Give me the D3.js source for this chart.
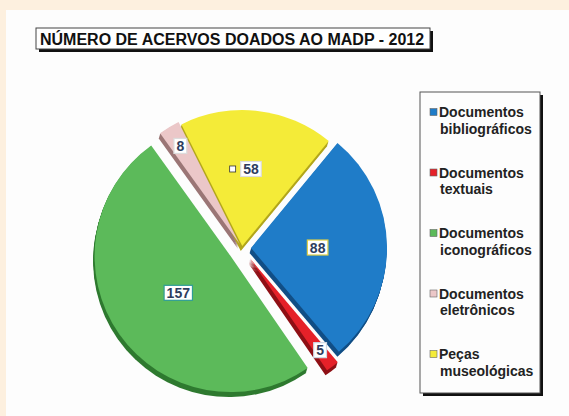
<!DOCTYPE html>
<html>
<head>
<meta charset="utf-8">
<script src="https://cdn.jsdelivr.net/npm/d3@7"></script>
<style>
  body { margin: 0; background: #fdf0df; }
  svg { display: block; font-family: 'Liberation Sans', Arial, sans-serif; }
</style>
</head>
<body>
<div id="chart"></div>
<script>
const w = 569;
const h = 416;

// data
const categories = [
  ['Documentos', 'bibliográficos'],
  ['Documentos', 'textuais'],
  ['Documentos', 'iconográficos'],
  ['Documentos', 'eletrônicos'],
  ['Peças', 'museológicas']
];
const values = [88, 5, 157, 8, 58];
const title = 'NÚMERO DE ACERVOS DOADOS AO MADP - 2012';

// styling
const colors = ['#1f7cc8', '#e52129', '#5cba5a', '#ebc7c8', '#f4eb38'];
const darkColors = ['#124f86', '#8f1116', '#2f7a30', '#9b7676', '#b3a71c'];
const labelBorders = ['#e0cf45', '#cfd8e4', '#2f9c96', '#dcdcdc', '#dcdcdc'];
const explode = [9, 13, 14, 5, 2];
const labelR = [0.49, 0.85, 0.47, 0.84, 0.57];

const cx = 242;
const cy = 248;
const radius = 136;
const depth = 5;

const svg = d3
  .select('#chart')
  .append('svg')
  .attr('width', w)
  .attr('height', h);

svg.append('rect').attr('width', w).attr('height', h).attr('fill', '#fdf0df');
svg.append('rect').attr('x', 6).attr('y', 10).attr('width', w - 6).attr('height', h - 10).attr('fill', '#fdfdfd');

// title box
const tg = svg.append('g');
tg.append('rect').attr('x', 39).attr('y', 31).attr('width', 394).attr('height', 21).attr('fill', '#111');
tg.append('rect').attr('x', 36).attr('y', 28).attr('width', 394).attr('height', 21)
  .attr('fill', '#fff').attr('stroke', '#444').attr('stroke-width', 1);
tg.append('text').attr('x', 40).attr('y', 44.5)
  .attr('font-size', 16).attr('font-weight', 'bold').attr('fill', '#111')
  .text(title);

// pie
const pie = d3.pie().sort(null)
  .startAngle((39.5 * Math.PI) / 180)
  .endAngle((39.5 * Math.PI) / 180 + 2 * Math.PI);
const arcs = pie(values);
const arc = d3.arc().innerRadius(0).outerRadius(radius);

const offset = (d, i, r) => {
  const a = (d.startAngle + d.endAngle) / 2;
  return [Math.sin(a) * r, -Math.cos(a) * r];
};

const pg = svg.append('g').attr('transform', `translate(${cx},${cy})`);

// side faces
arcs.forEach((d, i) => {
  const [ox, oy] = offset(d, i, explode[i]);
  for (let k = depth; k >= 1; k--) {
    pg.append('path')
      .attr('d', arc(d))
      .attr('transform', `translate(${ox - k * 0.3},${oy + k})`)
      .attr('fill', darkColors[i]);
  }
});

// top faces
arcs.forEach((d, i) => {
  const [ox, oy] = offset(d, i, explode[i]);
  pg.append('path')
    .attr('d', arc(d))
    .attr('transform', `translate(${ox},${oy})`)
    .attr('fill', colors[i]);
});

// data labels
arcs.forEach((d, i) => {
  const [ox, oy] = offset(d, i, explode[i]);
  const [lx, ly] = offset(d, i, radius * labelR[i]);
  const g = pg.append('g').attr('transform', `translate(${ox + lx},${oy + ly})`);
  const t = g.append('text')
    .attr('text-anchor', 'middle')
    .attr('y', 5)
    .attr('font-size', 14).attr('font-weight', 'bold').attr('fill', '#2e3d5e')
    .text(values[i]);
  const bw = t.node().getComputedTextLength() + 5;
  g.insert('rect', 'text')
    .attr('x', -bw / 2).attr('y', -7.5).attr('width', bw).attr('height', 15)
    .attr('fill', '#fff').attr('stroke', labelBorders[i]).attr('stroke-width', 1.2);
  if (i === 4) {
    g.append('rect').attr('x', -bw / 2 - 11).attr('y', -3).attr('width', 6).attr('height', 6)
      .attr('fill', '#fff').attr('stroke', '#333').attr('stroke-width', 0.8);
  }
});

// legend
const lx0 = 420;
const ly0 = 92;
const lw = 120;
const lh = 301;
const lg = svg.append('g');
lg.append('rect').attr('x', lx0 + 3).attr('y', ly0 + 3).attr('width', lw).attr('height', lh).attr('fill', '#111');
lg.append('rect').attr('x', lx0).attr('y', ly0).attr('width', lw).attr('height', lh)
  .attr('fill', '#fdfdfd').attr('stroke', '#555').attr('stroke-width', 1);

const itemY = d3.scalePoint().domain(d3.range(categories.length)).range([112, 354]);

categories.forEach((lines, i) => {
  const y = itemY(i);
  lg.append('rect').attr('x', 430).attr('y', y - 3.5).attr('width', 7).attr('height', 7)
    .attr('fill', colors[i]).attr('stroke', '#666').attr('stroke-width', 0.6);
  const t = lg.append('text').attr('x', 439).attr('y', y + 5)
    .attr('font-size', 14).attr('font-weight', 'bold').attr('fill', '#222');
  t.append('tspan').text(lines[0]);
  t.append('tspan').attr('x', 440).attr('dy', 16.5).text(lines[1]);
});
</script>
</body>
</html>
